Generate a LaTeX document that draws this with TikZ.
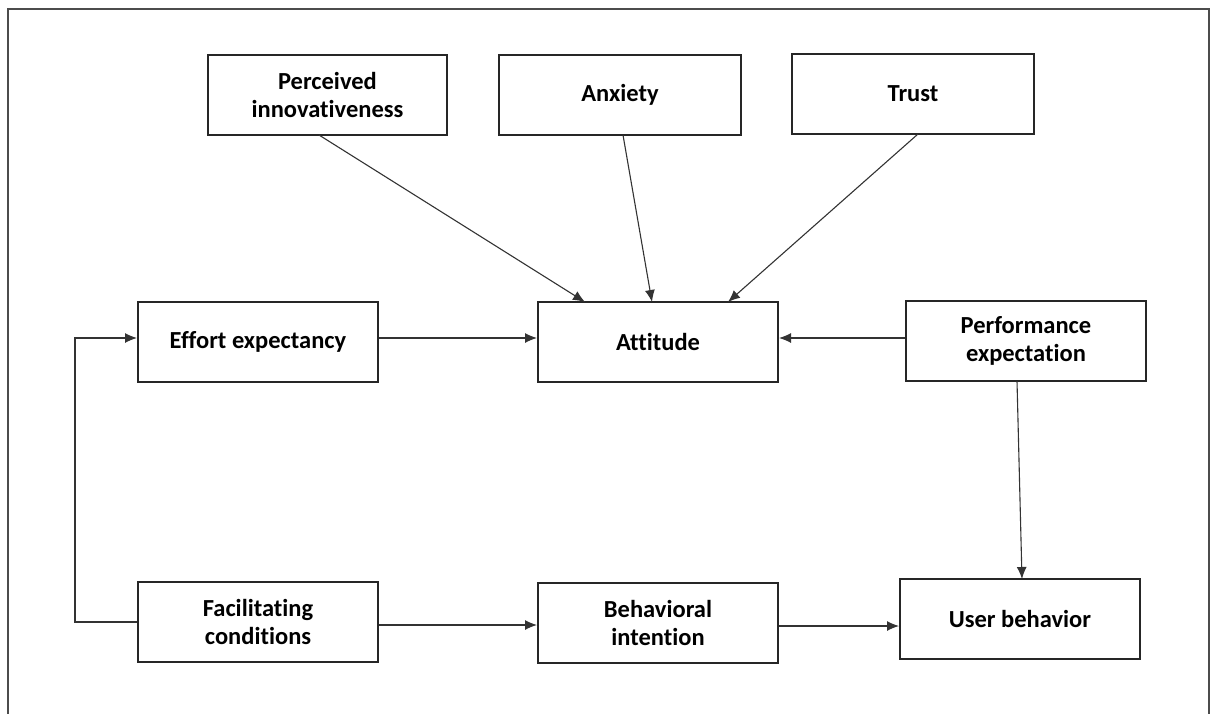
\documentclass[tikz,border=0pt]{standalone}
\usepackage{fontspec}
\setmainfont{Carlito}[RawFeature=-liga]
\usetikzlibrary{arrows.meta}
\begin{document}
\begin{tikzpicture}[x=1pt,y=-1pt,
  box/.style={draw=black!85,line width=2pt,minimum width=240pt,minimum height=80pt,
    align=center,font=\fontsize{24.5}{28.5}\selectfont\bfseries,inner sep=0pt},
  link/.style={draw=black!80,line width=1.1pt,-{Latex[length=12pt,width=10pt]}}]
  \useasboundingbox (0,0) rectangle (1211,713);
  % outer frame, open at the bottom
  \draw[black!70,line width=2.2pt] (8,720) -- (8,9) -- (1209,9) -- (1209,720);
  % constructs
  \node[box,minimum width=239pt] (pi)  at (327.5,95) {Perceived\\innovativeness};
  \node[box,minimum width=242pt] (anx) at (620,95) {Anxiety};
  \node[box,minimum width=242pt] (tr)  at (913,94) {Trust};
  \node[box] (ee)  at (258,342) {Effort expectancy};
  \node[box] (att) at (658,342) {Attitude};
  \node[box] (pe)  at (1026,341) {Performance\\expectation};
  \node[box] (fc)  at (258,622) {Facilitating\\conditions};
  \node[box] (bi)  at (658,623) {Behavioral\\intention};
  \node[box] (ub)  at (1020,619) {User behavior};
  % connector end points
  \coordinate (piout) at (319,135);
  \coordinate (attin1) at (585,302);
  \coordinate (anxout) at (623,135);
  \coordinate (attin2) at (652,302);
  \coordinate (trout) at (918,134);
  \coordinate (attin3) at (728,302);
  \coordinate (peout) at (1017,381);
  \coordinate (ubin) at (1022,579);
  \coordinate (corner1) at (75,622);
  \coordinate (corner2) at (75,338);
  % influence paths
  \draw[link] (piout) -- (attin1);
  \draw[link] (anxout) -- (attin2);
  \draw[link] (trout) -- (attin3);
  \draw[link] (ee.east |- 0,338) -- (att.west |- 0,338);
  \draw[link] (pe.west |- 0,338) -- (att.east |- 0,338);
  \draw[link] (peout) -- (ubin);
  \draw[link] (fc.east |- 0,625) -- (bi.west |- 0,625);
  \draw[link] (bi.east |- 0,626) -- (ub.west |- 0,626);
  \draw[link] (fc.west |- corner1) -- (corner1) -- (corner2) -- (ee.west |- corner2);
\end{tikzpicture}
\end{document}
